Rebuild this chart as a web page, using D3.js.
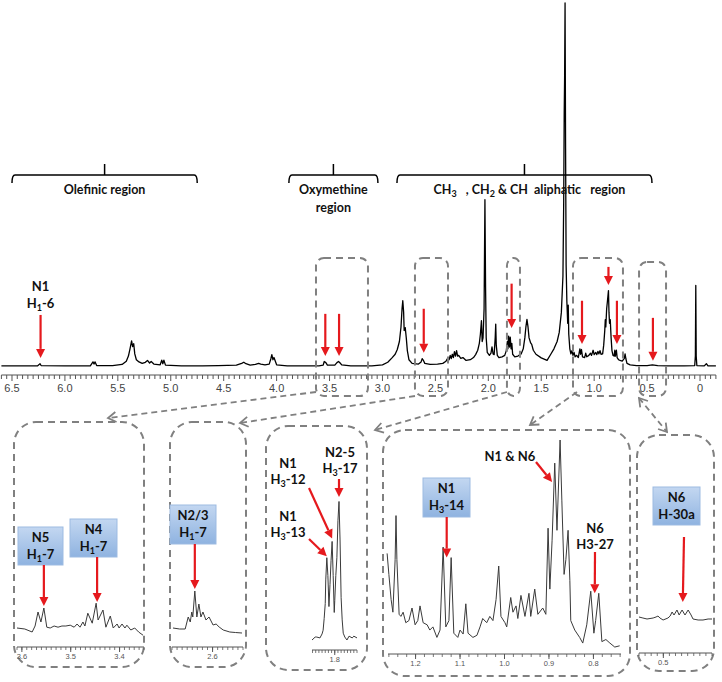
<!DOCTYPE html>
<html>
<head>
<meta charset="utf-8">
<style>
body { margin: 0; background: #fff; }
svg { display: block; }
.lbl { font-family: Lato, "Open Sans", sans-serif; font-weight: bold; font-size: 13px; fill: #111; white-space: pre; }
.tick { font-family: "Liberation Sans", Arial, sans-serif; font-size: 11px; fill: #444; }
.itick { font-family: "Liberation Sans", Arial, sans-serif; font-size: 7.5px; fill: #555; }
</style>
</head>
<body>
<svg width="722" height="682"></svg>
<script src="https://d3js.org/d3.v7.min.js"></script>
<script>

// main 1H spectrum, [ppm, relative intensity %]
var mainSpectrum = [
  [6.60,0.3],[6.40,0.3],[6.26,0.3],[6.235,0.9],[6.225,0.4],[6.00,0.3],[5.76,0.3],[5.735,1.4],[5.725,0.8],[5.715,1.4],
  [5.70,0.4],[5.55,0.4],[5.46,0.7],[5.42,1.6],[5.40,3.0],[5.385,5.0],[5.37,7.2],[5.36,5.6],[5.35,6.4],[5.34,3.6],
  [5.325,2.0],[5.30,1.4],[5.27,1.0],[5.24,1.3],[5.22,1.8],[5.20,1.1],[5.185,1.5],[5.16,0.8],[5.10,0.6],[5.085,1.9],
  [5.075,0.9],[5.065,1.9],[5.05,0.5],[4.90,0.3],[4.70,0.3],[4.55,0.4],[4.38,0.5],[4.33,1.0],[4.31,1.3],[4.29,0.9],
  [4.25,0.5],[4.20,0.7],[4.17,1.0],[4.15,0.8],[4.11,0.6],[4.07,0.8],[4.055,2.2],[4.045,3.4],[4.035,2.0],[4.025,2.6],
  [4.00,0.6],[3.90,0.3],[3.60,0.3],[3.56,0.5],[3.55,1.5],[3.535,1.2],[3.52,0.5],[3.45,0.5],[3.43,1.2],[3.415,1.5],
  [3.40,1.1],[3.385,0.6],[3.30,0.3],[3.10,0.3],[3.00,0.6],[2.95,1.3],[2.91,2.5],[2.88,3.5],[2.86,4.8],[2.84,7],
  [2.825,11],[2.815,16],[2.808,18.2],[2.80,15],[2.795,10],[2.785,10.8],[2.775,8],[2.765,4.5],[2.75,2],[2.72,1],
  [2.66,0.8],[2.635,1.4],[2.625,2.3],[2.615,1.9],[2.60,1.0],[2.55,0.7],[2.48,0.8],[2.43,1.0],[2.40,1.6],[2.38,2.6],
  [2.37,2.0],[2.36,3.2],[2.35,2.3],[2.34,3.5],[2.33,2.6],[2.32,4.2],[2.31,3.0],[2.30,4.5],[2.29,3.0],[2.28,3.2],
  [2.26,2.4],[2.24,2.6],[2.21,1.8],[2.17,2.0],[2.14,2.6],[2.12,3.4],[2.10,4.6],[2.085,6.5],[2.075,9],[2.065,12.7],
  [2.058,7],[2.05,8],[2.04,16],[2.032,46],[2.026,22],[2.02,8],[2.01,4],[1.99,3.2],[1.975,3.8],[1.965,5.5],
  [1.955,3.6],[1.945,3.4],[1.935,8],[1.93,11.8],[1.925,6],[1.915,3.2],[1.90,2.6],[1.87,2.8],[1.845,3.2],[1.83,4.5],
  [1.82,7],[1.815,5],[1.808,8.5],[1.80,5.5],[1.793,8.2],[1.785,5],[1.778,6.5],[1.77,3.5],[1.75,2.8],[1.72,3.0],
  [1.69,3.6],[1.67,5],[1.655,8],[1.645,11],[1.635,13.1],[1.625,11],[1.615,8],[1.60,6.6],[1.59,6.2],[1.575,4.6],
  [1.55,3.5],[1.50,2.5],[1.445,1.8],[1.41,3.5],[1.38,5],[1.35,7],[1.33,9.5],[1.31,15],[1.295,25],[1.288,45],
  [1.283,70],[1.279,80],[1.275,100],[1.27,60],[1.265,28],[1.258,18],[1.25,12],[1.245,17],[1.24,9],[1.23,5],
  [1.22,3.6],[1.21,4.5],[1.20,3.2],[1.19,4],[1.18,2.8],[1.165,3.2],[1.15,2.6],[1.135,5],[1.128,3.5],[1.12,4.8],
  [1.11,2.8],[1.09,2.6],[1.08,3.8],[1.07,2.8],[1.05,3.2],[1.035,3.8],[1.025,3.2],[1.01,4.6],[1.00,3.4],[0.985,4],
  [0.975,3.4],[0.965,4.3],[0.955,3.6],[0.945,4.5],[0.935,3.5],[0.92,3.6],[0.91,6],[0.90,10],[0.895,13],[0.89,11],
  [0.882,16],[0.875,18],[0.865,21],[0.86,15],[0.855,12],[0.848,13],[0.84,8],[0.832,4.5],[0.822,3.2],[0.812,3],
  [0.805,4.6],[0.80,3],[0.79,4.6],[0.783,2.6],[0.77,2],[0.755,1.8],[0.735,1.6],[0.715,2.4],[0.708,3.6],[0.70,2.2],
  [0.69,1.0],[0.66,0.6],[0.60,0.4],[0.50,0.4],[0.45,0.6],[0.40,0.4],[0.30,0.3],[0.15,0.3],[0.05,0.4],[0.044,3],
  [0.04,22.4],[0.036,3],[0.03,0.4],[-0.04,0.3],[-0.06,0.9],[-0.075,0.3],[-0.15,0.3]
];
var mainTicks = [6.5, 6.0, 5.5, 5.0, 4.5, 4.0, 3.5, 3.0, 2.5, 2.0, 1.5, 1.0, 0.5, 0];

// expanded regions
var inset1Spectrum = [
  [3.61,30],[3.594,27.5],[3.579,20],[3.573,35],[3.567,70],[3.561,45],[3.555,80],[3.549,32],[3.542,30],[3.534,35],
  [3.526,32],[3.518,35],[3.51,35],[3.501,37],[3.493,32],[3.487,40],[3.481,32],[3.475,45],[3.471,35],[3.465,67],
  [3.456,42],[3.448,92],[3.444,50],[3.434,75],[3.428,32],[3.419,60],[3.413,30],[3.405,40],[3.401,30],[3.395,40],
  [3.389,30],[3.385,37],[3.377,25],[3.369,30],[3.361,20],[3.352,12]
];
var inset2Spectrum = [
  [2.678,24],[2.665,22],[2.654,22],[2.648,46],[2.644,36],[2.641,56],[2.639,46],[2.635,98],[2.631,46],[2.627,72],
  [2.623,46],[2.619,56],[2.613,40],[2.607,46],[2.599,30],[2.593,32],[2.587,26],[2.579,20],[2.566,16],[2.555,15],
  [2.542,14]
];
var inset3Spectrum = [
  [1.843,5.4],[1.837,7.4],[1.834,7.4],[1.828,6.8],[1.824,9.5],[1.822,12],[1.820,20],[1.818,30],[1.817,46],[1.815,61],
  [1.813,49],[1.811,28],[1.809,43],[1.807,59],[1.805,72],[1.803,49],[1.801,24],[1.800,32],[1.798,49],[1.796,61],
  [1.794,86],[1.792,99],[1.790,73],[1.788,34],[1.786,19],[1.784,10],[1.781,7.4],[1.777,5.4],[1.773,8],[1.767,6.8],
  [1.764,8],[1.758,6.8]
];
var inset4Spectrum = [
  [1.264,46],[1.260,36],[1.255,24],[1.251,18],[1.246,43],[1.244,64],[1.242,43],[1.237,17],[1.233,16],[1.228,18],
  [1.222,13],[1.215,14],[1.208,20],[1.201,12],[1.195,14],[1.190,21],[1.183,13],[1.174,12],[1.168,9.5],[1.161,11],
  [1.152,6],[1.145,9.5],[1.138,49],[1.132,11],[1.125,14],[1.120,44],[1.114,8],[1.105,6],[1.100,9.5],[1.093,7.6],
  [1.087,22],[1.082,8],[1.071,6],[1.062,7],[1.055,11],[1.049,15],[1.040,13],[1.033,16],[1.026,14],[1.019,24],
  [1.013,40],[1.008,16],[0.999,13],[0.995,11],[0.986,25],[0.981,18],[0.974,21],[0.970,15],[0.963,26],[0.954,16],
  [0.945,27],[0.941,16],[0.932,29],[0.925,17],[0.914,20],[0.907,17],[0.902,58],[0.898,29],[0.893,52],[0.887,89],
  [0.882,57],[0.875,100],[0.871,71],[0.866,36],[0.862,43],[0.857,57],[0.853,33],[0.851,14],[0.842,9.5],[0.831,6],
  [0.824,3.3],[0.815,12],[0.806,28],[0.799,8],[0.795,14],[0.788,27],[0.781,4],[0.772,5],[0.763,3.3],[0.752,1.4],
  [0.741,2]
];
var inset5Spectrum = [
  [0.600,16],[0.584,14],[0.567,12],[0.542,14],[0.530,16],[0.522,18],[0.514,14],[0.501,10],[0.481,14],[0.472,18],
  [0.464,26],[0.456,20],[0.444,30],[0.435,20],[0.423,30],[0.411,20],[0.398,30],[0.386,20],[0.378,12],[0.357,10],
  [0.337,10],[0.316,12],[0.300,12]
];

// region brackets over the main trace
var regionNames = ["Olefinic region", "Oxymethine|region", "CH_3   , CH_2 & CH  aliphatic   region"];
var regionFrom = [6.5, 3.884, 2.863];
var regionTo = [4.75, 3.043, 0.454];

// dashed selections in the main trace [from ppm, to ppm]
var zoomFrom = [3.628, 2.693, 1.824, 1.200, 0.576];
var zoomTo = [3.137, 2.381, 1.701, 0.728, 0.321];

// red arrows in the main trace: ppm, arrow start, arrow tip (intensity %)
var mainArrowPpm = [6.23, 3.54, 3.41, 2.61, 1.78, 1.115, 0.865, 0.785, 0.445];
var mainArrowTop = [14.3, 14.6, 14.6, 16, 22.9, 18.2, 27.5, 18.2, 13.5];
var mainArrowTip = [2.5, 3, 3, 3.9, 10.7, 6.3, 22.5, 6.3, 1.7];

var svg = d3.select("svg");
var defs = svg.append("defs");
var grad = defs.append("linearGradient").attr("id", "blueBox")
    .attr("x1", 0).attr("y1", 0).attr("x2", 0).attr("y2", 1);
grad.append("stop").attr("offset", "0%").attr("stop-color", "#c3d7f1");
grad.append("stop").attr("offset", "100%").attr("stop-color", "#8fb3e0");

var RED = "#e5191d", GREY = "#808080";

function redArrow(g, x1, y1, x2, y2) {
  var a = Math.atan2(y2 - y1, x2 - x1), L = 9, W = 4.5;
  var bx = x2 - L * Math.cos(a), by = y2 - L * Math.sin(a);
  g.append("line").attr("x1", x1).attr("y1", y1).attr("x2", bx).attr("y2", by)
    .attr("stroke", RED).attr("stroke-width", 2.2);
  g.append("path")
    .attr("d", "M" + x2 + "," + y2 +
      "L" + (bx + W * Math.sin(a)) + "," + (by - W * Math.cos(a)) +
      "L" + (bx - W * Math.sin(a)) + "," + (by + W * Math.cos(a)) + "Z")
    .attr("fill", RED);
}

function chevron(g, x, y, fromX, fromY) {
  var a = Math.atan2(y - fromY, x - fromX), L = 8, W = 5;
  var bx = x - L * Math.cos(a), by = y - L * Math.sin(a);
  g.append("path")
    .attr("d", "M" + (bx + W * Math.sin(a)) + "," + (by - W * Math.cos(a)) +
      "L" + x + "," + y + "L" + (bx - W * Math.sin(a)) + "," + (by + W * Math.cos(a)))
    .attr("fill", "none").attr("stroke", GREY).attr("stroke-width", 1.8);
}

// text with "_x" subscripts
function label(g, x, y, str, size) {
  var t = g.append("text").attr("class", "lbl").attr("x", x).attr("y", y)
    .attr("text-anchor", "middle");
  if (size) t.style("font-size", size + "px");
  var sub = false;
  str.split(/(_\w)/).forEach(function(p) {
    if (!p) return;
    if (p[0] === "_") {
      t.append("tspan").attr("dy", 3).style("font-size", "9px").text(p[1]);
      sub = true;
    } else {
      var s = t.append("tspan").text(p);
      if (sub) { s.attr("dy", -3); sub = false; }
    }
  });
  return t;
}

function dashedBox(g, x, y, w, h, r) {
  g.append("rect").attr("x", x).attr("y", y).attr("width", w).attr("height", h)
    .attr("rx", r).attr("ry", r)
    .attr("fill", "none").attr("stroke", GREY).attr("stroke-width", 2)
    .attr("stroke-dasharray", "7,5");
}

// ---------- main spectrum ----------
var x = d3.scaleLinear().domain([6.6, -0.15]).range([1.4, 715.9]);
var y = d3.scaleLinear().domain([0, 100]).range([367, 3]);
var axisY = 375;

var main = svg.append("g");

for (var i = -3; i <= 132; i++) {
  var p = i * 0.05;
  main.append("line").attr("x1", x(p)).attr("x2", x(p))
    .attr("y1", axisY).attr("y2", axisY + (i % 10 === 0 ? 6 : 4))
    .attr("stroke", "#555").attr("stroke-width", 1);
}
main.append("line").attr("x1", x(6.6)).attr("x2", x(-0.15))
  .attr("y1", axisY).attr("y2", axisY).attr("stroke", "#555").attr("stroke-width", 1.2);
main.selectAll("text.tick").data(mainTicks).enter().append("text")
  .attr("class", "tick").attr("x", function(d) { return x(d); }).attr("y", axisY + 17)
  .attr("text-anchor", "middle")
  .text(function(d) { return d === 0 ? "0" : d3.format(".1f")(d); });

var line = d3.line().x(function(d) { return x(d[0]); }).y(function(d) { return y(d[1]); });
main.append("path").datum(mainSpectrum).attr("d", line)
  .attr("fill", "none").attr("stroke", "#000").attr("stroke-width", 1.3)
  .attr("stroke-linejoin", "round");

// brackets
regionNames.forEach(function(name, k) {
  var x0 = x(regionFrom[k]), x1 = x(regionTo[k]), xm = (x0 + x1) / 2, by = 175;
  main.append("path")
    .attr("d", "M" + x0 + "," + (by + 8) + "Q" + x0 + "," + by + " " + (x0 + 3) + "," + by +
      "L" + (x1 - 3) + "," + by + "Q" + x1 + "," + by + " " + x1 + "," + (by + 8) +
      "M" + xm + "," + by + "L" + xm + "," + (by - 11))
    .attr("fill", "none").attr("stroke", "#000").attr("stroke-width", 1.5);
  name.split("|").forEach(function(s, j) {
    label(main, xm + (k === 2 ? 5 : 0), 194 + j * 18, s, 12.5);
  });
});

// dashed selections
zoomFrom.forEach(function(p, k) {
  var top = k === 4 ? 262 : 258;
  dashedBox(main, x(p), top, x(zoomTo[k]) - x(p), 396 - top, 8);
});

// arrows
mainArrowPpm.forEach(function(p, k) {
  redArrow(main, x(p), y(mainArrowTop[k]), x(p), y(mainArrowTip[k]));
});
label(main, x(6.23), 291, "N1");
label(main, x(6.23), 308, "H_1-6");

// connectors to the expanded views
var connectors = [
  {from: [316, 392], to: [108, 418], both: false},
  {from: [415, 396], to: [240, 423], both: false},
  {from: [507, 392], to: [375, 430], both: false},
  {from: [577, 392], to: [530, 425], both: false},
  {from: [639, 398], to: [667, 432], both: true}
];
connectors.forEach(function(c) {
  main.append("line").attr("x1", c.from[0]).attr("y1", c.from[1])
    .attr("x2", c.to[0]).attr("y2", c.to[1])
    .attr("stroke", GREY).attr("stroke-width", 1.8).attr("stroke-dasharray", "6,4");
  chevron(main, c.to[0], c.to[1], c.from[0], c.from[1]);
  if (c.both) chevron(main, c.from[0], c.from[1], c.to[0], c.to[1]);
});

// ---------- expanded views ----------
var insets = [
  {frame: [14, 422, 130, 245], dom: [3.61, 3.35], rng: [17, 144], yr: [640, 600], axisY: 647,
   step: 0.01, labels: [3.6, 3.5, 3.4], data: inset1Spectrum,
   notes: [
     {lines: ["N5", "H_1-7"], ppm: 3.555, tip: 85, box: [18, 527, 45, 38]},
     {lines: ["N4", "H_1-7"], ppm: 3.446, tip: 95, box: [70, 519, 47, 38]}
   ]},
  {frame: [170, 422, 76, 245], dom: [2.68, 2.54], rng: [172, 243], yr: [640, 590], axisY: 647,
   step: 0.01, labels: [2.6], data: inset2Spectrum,
   notes: [
     {lines: ["N2/3", "H_1-7"], ppm: 2.635, tip: 102, box: [170, 505, 46, 39]}
   ]},
  {frame: [266, 426, 101, 244], dom: [1.843, 1.758], rng: [312, 357], yr: [648, 500], axisY: 650,
   step: 0.006, labels: [1.8], data: inset3Spectrum,
   notes: [
     {lines: ["N2-5", "H_3-17"], ppm: 1.792, tip: 102, text: [340, 452], from: [339, 479]},
     {lines: ["N1", "H_3-12"], ppm: 1.805, tip: 74, text: [288, 463], from: [309, 488]},
     {lines: ["N1", "H_3-13"], ppm: 1.815, tip: 62, text: [288, 516], from: [309, 539]}
   ]},
  {frame: [383, 430, 247, 246], dom: [1.262, 0.738], rng: [388, 621], yr: [650, 440], axisY: 654,
   step: 0.02, labels: [1.2, 1.1, 1.0, 0.9, 0.8], data: inset4Spectrum,
   notes: [
     {lines: ["N1", "H_3-14"], ppm: 1.13, tip: 44, box: [423, 478, 47, 39]},
     {lines: ["N1 & N6"], ppm: 0.893, tip: 80, text: [510, 456], from: [536, 462]},
     {lines: ["N6", "H3-27"], ppm: 0.797, tip: 27, text: [595, 528], from: [595, 552]}
   ]},
  {frame: [637, 435, 77, 236], dom: [0.6, 0.3], rng: [639, 712], yr: [625, 575], axisY: 653,
   step: 0.025, labels: [0.5], data: inset5Spectrum,
   notes: [
     {lines: ["N6", "H-30a"], ppm: 0.42, tip: 46, box: [653, 487, 47, 38], from: [684, 537]}
   ]}
];

insets.forEach(function(ins) {
  var g = svg.append("g");
  var xs = d3.scaleLinear().domain(ins.dom).range(ins.rng);
  var ys = d3.scaleLinear().domain([0, 100]).range(ins.yr);
  var f = ins.frame;
  dashedBox(g, f[0], f[1], f[2], f[3], 22);

  // axis
  g.append("line").attr("x1", ins.rng[0]).attr("x2", ins.rng[1])
    .attr("y1", ins.axisY).attr("y2", ins.axisY).attr("stroke", "#555").attr("stroke-width", 1);
  var n = Math.floor((ins.dom[0] - ins.dom[1]) / ins.step + 1e-6);
  var start = Math.ceil(ins.dom[1] / ins.step - 1e-6) * ins.step;
  for (var k = 0; k <= n; k++) {
    var p = start + k * ins.step;
    if (p > ins.dom[0] + 1e-9) break;
    g.append("line").attr("x1", xs(p)).attr("x2", xs(p))
      .attr("y1", ins.axisY).attr("y2", ins.axisY + 3)
      .attr("stroke", "#555").attr("stroke-width", 0.8);
  }
  ins.labels.forEach(function(d) {
    g.append("line").attr("x1", xs(d)).attr("x2", xs(d))
      .attr("y1", ins.axisY).attr("y2", ins.axisY + 5).attr("stroke", "#555");
    g.append("text").attr("class", "itick").attr("x", xs(d)).attr("y", ins.axisY + 12)
      .attr("text-anchor", "middle").text(d3.format(".1f")(d));
  });

  var ln = d3.line().x(function(d) { return xs(d[0]); }).y(function(d) { return ys(d[1]); });
  g.append("path").datum(ins.data).attr("d", ln)
    .attr("fill", "none").attr("stroke", "#3a3a3a").attr("stroke-width", 1)
    .attr("stroke-linejoin", "round");

  ins.notes.forEach(function(nt) {
    var ax = xs(nt.ppm), ay = ys(nt.tip);
    if (nt.box) {
      var b = nt.box;
      g.append("rect").attr("x", b[0]).attr("y", b[1]).attr("width", b[2]).attr("height", b[3])
        .attr("fill", "url(#blueBox)").attr("stroke", "#9dbbe2").attr("stroke-width", 1);
      nt.lines.forEach(function(s, j) {
        label(g, b[0] + b[2] / 2, b[1] + 15 + j * 17, s);
      });
      var from = nt.from || [ax, b[1] + b[3]];
      redArrow(g, from[0], from[1], ax, ay);
    } else {
      nt.lines.forEach(function(s, j) {
        label(g, nt.text[0], nt.text[1] + 5 + j * 16, s);
      });
      redArrow(g, nt.from[0], nt.from[1], ax, ay);
    }
  });
});

</script>
</body>
</html>
